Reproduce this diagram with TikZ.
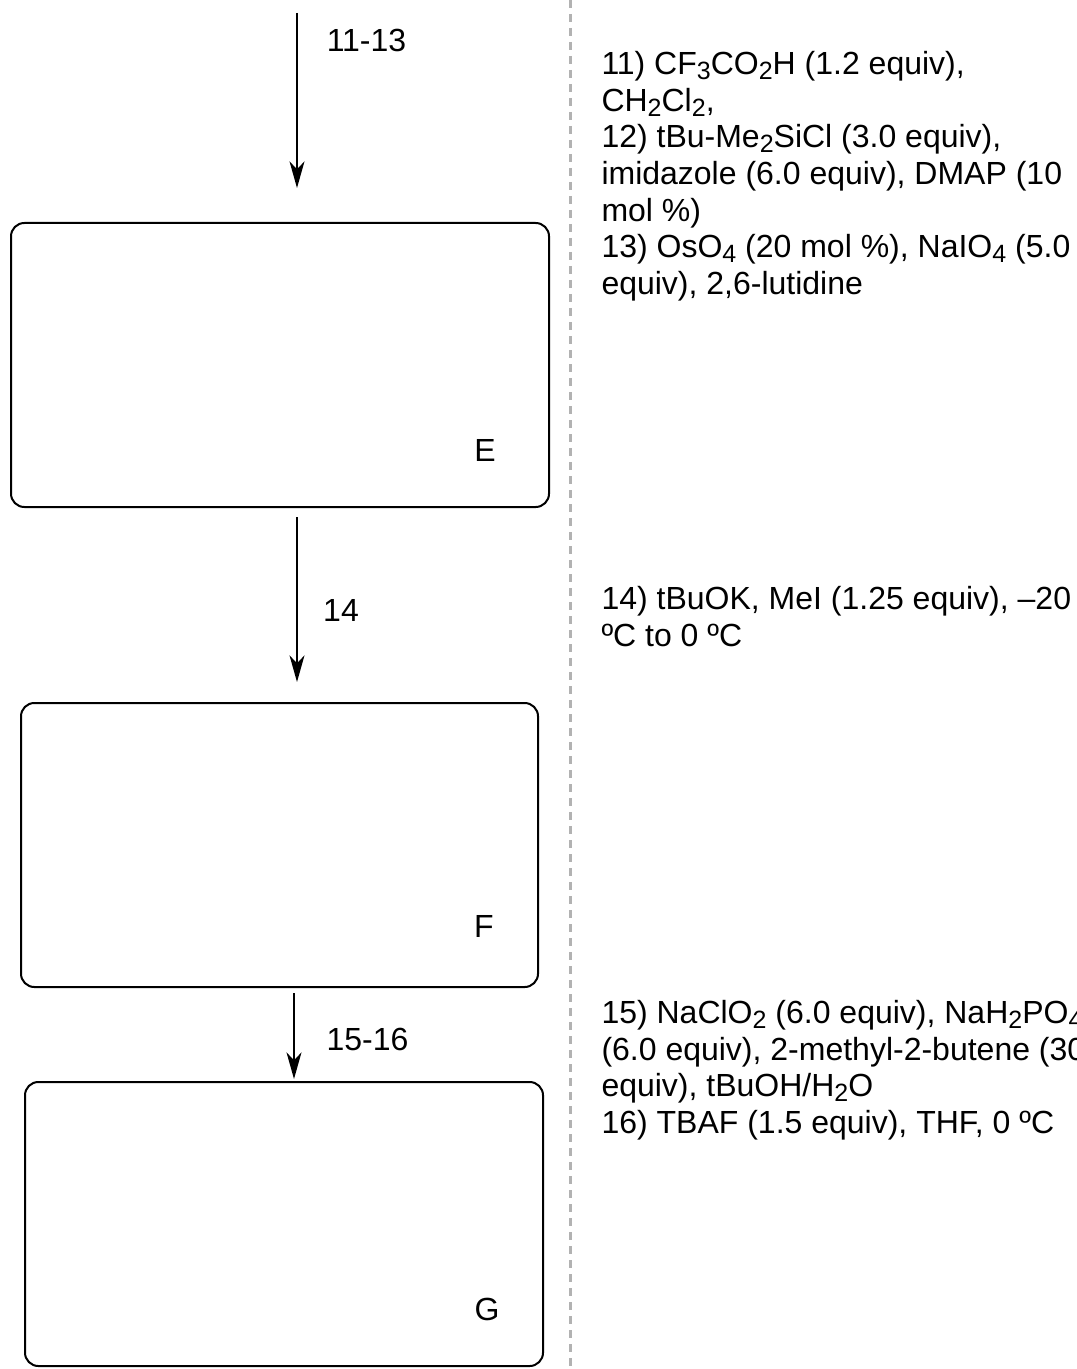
\documentclass[tikz,border=0pt]{standalone}
\usepackage{fontspec}
\setmainfont{Liberation Sans}
\usetikzlibrary{arrows.meta}
\newcommand\sbx[1]{\raisebox{-3.75pt}{\fontsize{18.75pt}{18.75pt}\selectfont #1}}
\newcommand\stackl[1]{\vtop{\baselineskip=27.5pt\lineskiplimit=-100pt\relax #1}}
\begin{document}
\begin{tikzpicture}[x=0.75pt, y=-0.75pt,
  every node/.style={inner sep=0pt, outer sep=0pt, font=\fontsize{24pt}{27.5pt}\selectfont},
  box/.style={draw, line width=1.5pt, rounded corners=10pt, minimum height=213pt},
  arr/.style={line width=1.1pt, -{Stealth[length=20pt, width=11.25pt, inset=6pt]}},
  sep/.style={draw=black!30, line width=1.7pt, dash pattern=on 6pt off 4.5pt},
  lbl/.style={anchor=base},
  rtxt/.style={anchor=base west}]
\path[use as bounding box, clip] (0,0) rectangle (1076,1369);

% separator
\coordinate (d1) at (570.5,0);
\coordinate (d2) at (570.5,1369);
\draw[sep] (d1) -- (d2);

% boxes
\node[box, minimum width=403.5pt] (E) at (280,365) {};
\node[box, minimum width=387.75pt] (F) at (279.5,845) {};
\node[box, minimum width=388.5pt] (G) at (284,1224) {};

\node[lbl] (Et) at (485,461) {E};
\node[lbl] (Ft) at (484,937.5) {F};
\node[lbl] (Gt) at (487,1320.5) {G};

% arrows
\coordinate (a1) at (297,13);
\coordinate (a3) at (294,990);
\draw[arr, shorten >=26.25pt] (a1) -- (a1 |- E.north);
\draw[arr, shorten <=7.5pt, shorten >=15.75pt] (E.south -| a1) -- (F.north -| a1);
\draw[arr, shorten <=4.5pt, shorten >=2.25pt] (F.south -| a3) -- (G.north -| a3);

% step labels
\node[lbl] (l1) at (366.5,52) {11-13};
\node[lbl] (l2) at (341,621.5) {14};
\node[lbl] (l3) at (367.5,1050) {15-16};

% conditions
\node[rtxt] (c1) at (601.5,74.5) {\stackl{%
  \hbox{11) CF\sbx{3}CO\sbx{2}H (1.2 equiv),}
  \hbox{CH\sbx{2}Cl\sbx{2},}
  \hbox{12) tBu-Me\sbx{2}SiCl (3.0 equiv),}
  \hbox{imidazole (6.0 equiv), DMAP (10}
  \hbox{mol \%)}
  \hbox{13) OsO\sbx{4} (20 mol \%), NaIO\sbx{4} (5.0}
  \hbox{equiv), 2,6-lutidine}}};
\node[rtxt] (c2) at (601.5,609.5) {\stackl{%
  \hbox{14) tBuOK, MeI (1.25 equiv), –20}
  \hbox{ºC to 0 ºC}}};
\node[rtxt] (c3) at (601.5,1023.5) {\stackl{%
  \hbox{15) NaClO\sbx{2} (6.0 equiv), NaH\sbx{2}PO\sbx{4}}
  \hbox{(6.0 equiv), 2-methyl-2-butene (30}
  \hbox{equiv), tBuOH/H\sbx{2}O}
  \hbox{16) TBAF (1.5 equiv), THF, 0 ºC}}};
\end{tikzpicture}
\end{document}
